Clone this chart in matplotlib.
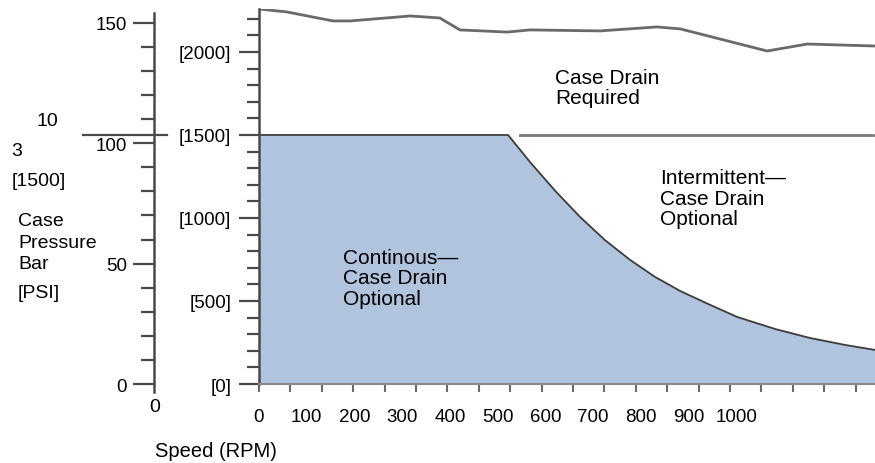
import numpy as np
import matplotlib.pyplot as plt
from matplotlib.ticker import FixedLocator, NullFormatter
from matplotlib.transforms import blended_transform_factory

plt.rcParams['font.family'] = ['Liberation Sans', 'DejaVu Sans']

PSI_PER_BAR = 14.5038

# continuous-duty limit (RPM vs case pressure in PSI)
cont_rpm = [0, 522, 568, 621, 673, 725, 778, 830, 883, 946, 1002, 1082, 1155, 1229, 1291]
cont_psi = [1500, 1500, 1337, 1163, 1006, 867, 747, 645, 560, 476, 404, 331, 277, 235, 205]

# upper envelope where a case drain becomes mandatory
req_rpm = [0, 59, 155, 191, 317, 379, 421, 520, 568, 715, 834, 883, 1065, 1149, 1291]
req_psi = [2259, 2241, 2187, 2187, 2217, 2205, 2133, 2120, 2133, 2127, 2151, 2139, 2006, 2048, 2036]

# intermittent limit
interm_rpm = [547, 1287]
interm_psi = [1500, 1500]

speed_labels = list(range(0, 1001, 100))
psi_major = [0, 500, 1000, 1500, 2000]
bar_major = [0, 50, 100, 150]

W, H = 875, 464
fig = plt.figure(figsize=(W / 100, H / 100), dpi=100)

def fx(px):
    return px / W

def fy(py):
    return 1 - py / H

spine_col = '#4a4a4a'

ax = fig.add_axes([fx(259), fy(385), fx(875 - 259), (385 - 10) / H])
ax.set_xlim(0, 1291)
ax.set_ylim(0, 2259)

ax.fill_between(cont_rpm, 0, cont_psi, color='#b0c4de', lw=0)
ax.plot(cont_rpm, cont_psi, color='#3c3c3c', lw=1.3)
ax.plot(req_rpm, req_psi, color='#6a6a6a', lw=2)
ax.plot(interm_rpm, interm_psi, color='#7a7a7a', lw=2)

for s in ['top', 'right']:
    ax.spines[s].set_visible(False)
ax.spines['left'].set_color(spine_col)
ax.spines['left'].set_linewidth(1.8)
ax.spines['bottom'].set_color('#8a8a8a')
ax.spines['bottom'].set_linewidth(1.5)

# y: PSI
ax.set_yticks(psi_major)
ax.set_yticklabels([f'[{v}]' for v in psi_major])
ax.yaxis.set_minor_locator(FixedLocator(np.arange(0, 2201, 100)))
ax.tick_params(axis='y', which='major', length=14.5, width=1.6, color=spine_col,
               pad=5.5, labelsize=13.5)
ax.tick_params(axis='y', which='minor', length=8.5, width=1.6, color=spine_col)

# x: unlabelled marks plus the speed labels
ax.xaxis.remove_overlapping_locs = False
ax.set_xticks(np.arange(0, 1291, 65.8))
ax.xaxis.set_major_formatter(NullFormatter())
ax.set_xticks(speed_labels, [str(v) for v in speed_labels], minor=True)
ax.tick_params(axis='x', which='major', length=6, width=1.5, color='#6a6a6a')
ax.tick_params(axis='x', which='minor', length=0, pad=17, labelsize=13.5)

label_kw = dict(fontsize=15, va='top', ha='left', linespacing=1.1)
ax.text(620, 1905, 'Case Drain\nRequired', **label_kw)
ax.text(841, 1300, 'Intermittent\u2014\nCase Drain\nOptional', **label_kw)
ax.text(176, 820, 'Continous\u2014\nCase Drain\nOptional', **label_kw)

# bar scale on the far left
axb = fig.add_axes([fx(154), fy(385), 0.0005, (385 - 10) / H])
axb.set_ylim(0, 2259 / PSI_PER_BAR)
axb.set_xticks([])
for s in ['top', 'right', 'bottom']:
    axb.spines[s].set_visible(False)
axb.patch.set_visible(False)
axb.spines['left'].set_color(spine_col)
axb.spines['left'].set_linewidth(1.8)
axb.spines['left'].set_bounds(-3.3, 154)
axb.set_yticks(bar_major)
axb.yaxis.set_minor_locator(FixedLocator(np.arange(0, 151, 10)))
axb.tick_params(axis='y', which='major', length=15, width=1.6, color=spine_col,
                pad=4.5, labelsize=13.5)
axb.tick_params(axis='y', which='minor', length=9.5, width=1.6, color=spine_col)

# 1500 PSI reference line across the bar scale
tr = blended_transform_factory(fig.transFigure, axb.transData)
axb.plot([fx(83), fx(167)], [1500 / PSI_PER_BAR] * 2, color=spine_col, lw=1.6,
         transform=tr, clip_on=False)

txt = dict(fontsize=14, color='black')
fig.text(fx(155), fy(408), '0', ha='center', va='center', **txt)
fig.text(fx(47), fy(122), '10', ha='center', va='center', **txt)
fig.text(fx(17), fy(151), '3', ha='center', va='center', **txt)
fig.text(fx(12), fy(182), '[1500]', ha='left', va='center', **txt)
fig.text(fx(18), fy(222), 'Case', ha='left', va='center', **txt)
fig.text(fx(18), fy(244), 'Pressure', ha='left', va='center', **txt)
fig.text(fx(18), fy(265), 'Bar', ha='left', va='center', **txt)
fig.text(fx(18), fy(294), '[PSI]', ha='left', va='center', **txt)
fig.text(fx(155), fy(452), 'Speed (RPM)', ha='left', va='center', fontsize=14.5)

fig.savefig('out.png', dpi=100)
